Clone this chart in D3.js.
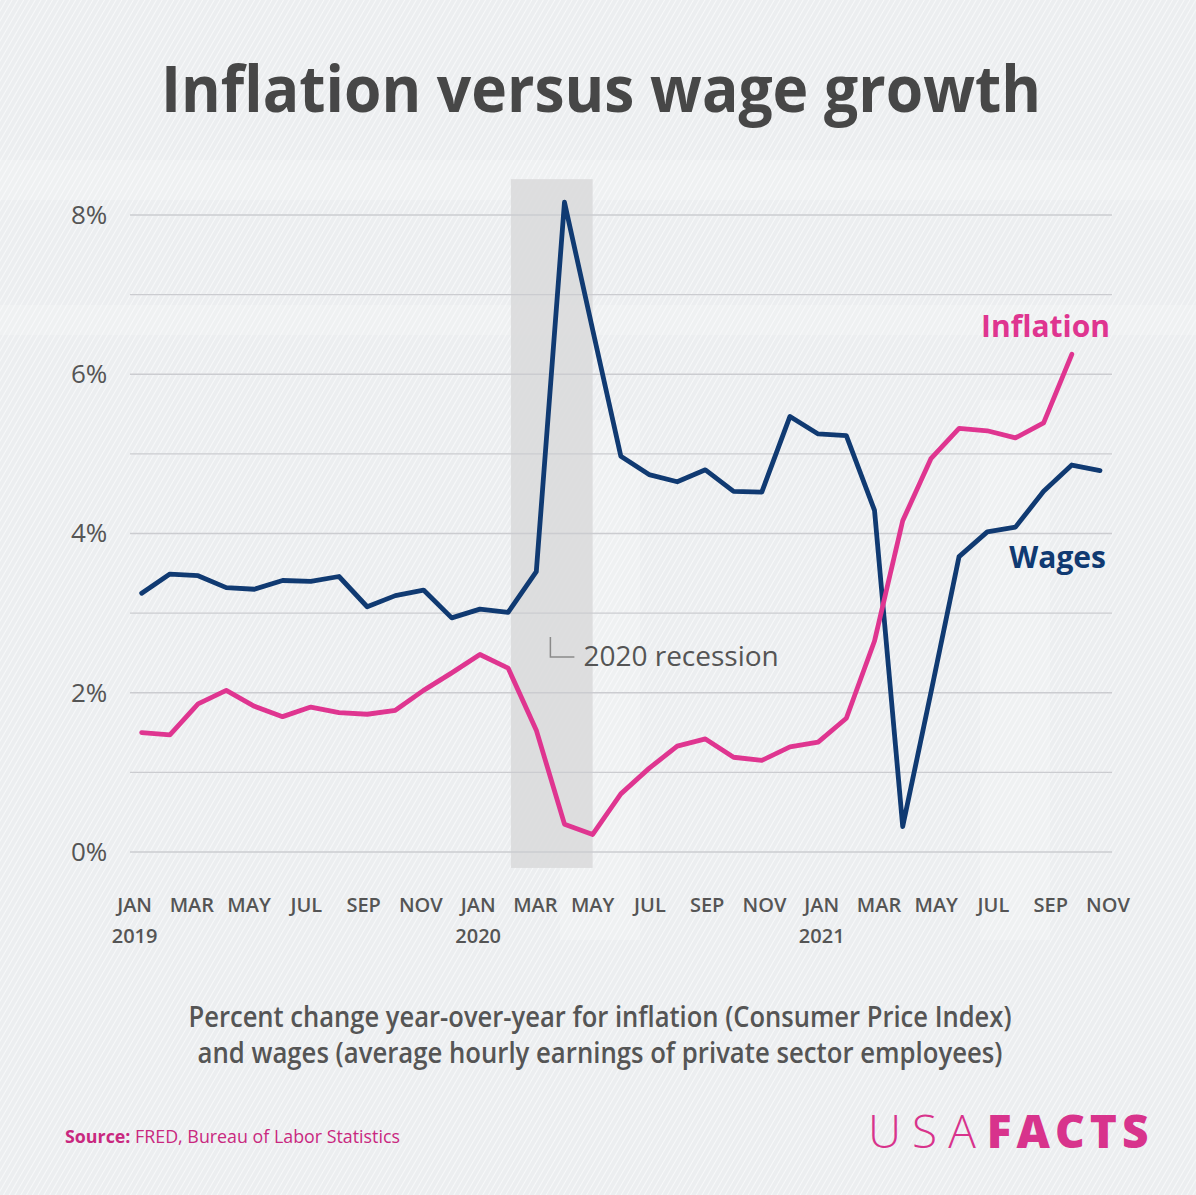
<!DOCTYPE html>
<html>
<head>
<meta charset="utf-8">
<script src="https://cdn.jsdelivr.net/npm/d3@7"></script>
<style>
  body { margin: 0; background: #eef0f2; }
  svg { display: block; font-family: "Open Sans", sans-serif; }
</style>
</head>
<body>
<div id="chart"></div>
<script>
// monthly data, Jan 2019 .. Nov 2021
const months = ["JAN","FEB","MAR","APR","MAY","JUN","JUL","AUG","SEP","OCT","NOV","DEC"];
const startYear = 2019;
const wages = [3.25, 3.49, 3.47, 3.32, 3.30, 3.41, 3.40, 3.46, 3.08, 3.22, 3.29, 2.94,
               3.05, 3.01, 3.52, 8.16, 6.56, 4.97, 4.74, 4.65, 4.80, 4.53, 4.52, 5.47,
               5.25, 5.23, 4.29, 0.32, 2.00, 3.71, 4.02, 4.08, 4.53, 4.86, 4.79];
const inflation = [1.50, 1.47, 1.86, 2.03, 1.83, 1.70, 1.82, 1.75, 1.73, 1.78, 2.03, 2.25,
                   2.48, 2.31, 1.53, 0.35, 0.22, 0.73, 1.05, 1.33, 1.42, 1.19, 1.15, 1.32,
                   1.38, 1.68, 2.65, 4.16, 4.94, 5.32, 5.29, 5.20, 5.39, 6.25];
const yTicks = [0, 2, 4, 6, 8];
const recession = [13.1, 16]; // month index range (Feb..May 2020)

const W = 1196, H = 1195;
const navy = "#103a72", pink = "#df3590", grey = "#555";

const svg = d3.select("#chart").append("svg")
    .attr("width", W).attr("height", H);

// background with fine diagonal hatching
const defs = svg.append("defs");
const pat = defs.append("pattern")
    .attr("id", "hatch").attr("width", 5).attr("height", 5)
    .attr("patternUnits", "userSpaceOnUse")
    .attr("patternTransform", "rotate(30)");
pat.append("rect").attr("width", 5).attr("height", 5).attr("fill", "#eceef0");
pat.append("line").attr("x1", 0).attr("y1", 0).attr("x2", 0).attr("y2", 5)
    .attr("stroke", "#fbfbfc").attr("stroke-width", 1.6);
svg.append("rect").attr("width", W).attr("height", H).attr("fill", "url(#hatch)");

// faint blocks hinting at the photo behind
const ghost = svg.append("g").attr("fill", "#ffffff").attr("opacity", 0.18);
ghost.append("rect").attr("x", 0).attr("y", 160).attr("width", W).attr("height", 40);
ghost.append("rect").attr("x", 0).attr("y", 305).attr("width", W).attr("height", 30);
ghost.append("rect").attr("x", 560).attr("y", 420).attr("width", 80).attr("height", 520);
ghost.append("rect").attr("x", 980).attr("y", 400).attr("width", 70).attr("height", 540);

// compress text that is wider than the reference
function fit(sel, w) {
  sel.each(function() {
    if (this.getComputedTextLength() > w) {
      d3.select(this).attr("textLength", w).attr("lengthAdjust", "spacingAndGlyphs");
    }
  });
}

// title
svg.append("text")
    .attr("x", 601).attr("y", 112)
    .attr("text-anchor", "middle")
    .attr("font-size", 64).attr("font-weight", 700)
    .attr("fill", "#474747")
    .text("Inflation versus wage growth")
    .call(fit, 880);

// scales
const x = d3.scaleLinear().domain([0, wages.length - 1]).range([141.7, 1100]);
const xLabel = d3.scaleLinear().domain([0, wages.length - 1]).range([134.6, 1108]);
const y = d3.scaleLinear().domain([0, 8]).range([852, 215]);

// recession band
svg.append("rect")
    .attr("x", x(recession[0]))
    .attr("width", x(recession[1]) - x(recession[0]))
    .attr("y", y(8.45)).attr("height", y(-0.2) - y(8.45))
    .attr("fill", "#d9d9da").attr("opacity", 0.85);

// grid lines each 1%
svg.append("g")
  .selectAll("line")
  .data(d3.range(0, 9))
  .join("line")
    .attr("x1", 130).attr("x2", 1112)
    .attr("y1", d => y(d)).attr("y2", d => y(d))
    .attr("stroke", "#cbccd0").attr("stroke-width", 1.4);

// y labels
const yAxis = d3.axisLeft(y).tickValues(yTicks).tickFormat(d => d + "%").tickSize(0);
svg.append("g")
    .attr("transform", "translate(112,0)")
    .call(yAxis)
    .call(g => g.select(".domain").remove())
    .selectAll("text")
    .attr("x", -41).attr("text-anchor", "start")
    .attr("font-family", "Open Sans").attr("font-size", 26).attr("font-weight", 500)
    .attr("fill", grey);

// x labels every two months + year under January
const monthIdx = d3.range(0, wages.length, 2);
const xg = svg.append("g").attr("font-weight", 600).attr("fill", grey).attr("text-anchor", "middle");
xg.selectAll("text.m")
  .data(monthIdx)
  .join("text")
    .attr("class", "m")
    .attr("x", d => xLabel(d)).attr("y", 912)
    .attr("font-size", 20)
    .text(d => months[d % 12]);
xg.selectAll("text.yr")
  .data(monthIdx.filter(d => d % 12 === 0))
  .join("text")
    .attr("class", "yr")
    .attr("x", d => xLabel(d)).attr("y", 943)
    .attr("font-size", 20)
    .text(d => startYear + d / 12);

// lines
const line = d3.line().x((d, i) => x(i)).y(d => y(d));
svg.append("path").datum(wages)
    .attr("d", line).attr("fill", "none")
    .attr("stroke", navy).attr("stroke-width", 4.8)
    .attr("stroke-linejoin", "round").attr("stroke-linecap", "round");
svg.append("path").datum(inflation)
    .attr("d", line).attr("fill", "none")
    .attr("stroke", pink).attr("stroke-width", 4.8)
    .attr("stroke-linejoin", "round").attr("stroke-linecap", "round");

// series labels
svg.append("text")
    .attr("x", 1110).attr("y", 337)
    .attr("text-anchor", "end").attr("font-size", 30).attr("font-weight", 700)
    .attr("fill", pink).text("Inflation");
svg.append("text")
    .attr("x", 1106).attr("y", 568)
    .attr("text-anchor", "end").attr("font-size", 30).attr("font-weight", 700)
    .attr("fill", navy).text("Wages");

// recession annotation
const ax = x(14.5), ay = y(2.45);
svg.append("path")
    .attr("d", `M${ax},${y(2.7)}V${ay}H${ax + 24}`)
    .attr("fill", "none").attr("stroke", "#8a8a8a").attr("stroke-width", 1.5);
svg.append("text")
    .attr("x", ax + 33).attr("y", ay + 9)
    .attr("font-size", 28).attr("font-weight", 500)
    .attr("fill", grey).text("2020 recession")
    .call(fit, 197);

// description
const desc = ["Percent change year-over-year for inflation (Consumer Price Index)",
              "and wages (average hourly earnings of private sector employees)"];
svg.append("g")
  .selectAll("text")
  .data(desc)
  .join("text")
    .attr("x", 600).attr("y", (d, i) => 1027 + i * 36)
    .attr("text-anchor", "middle")
    .attr("font-size", 28).attr("font-weight", 600)
    .attr("fill", grey)
    .text(d => d)
    .each(function(d, i) { fit(d3.select(this), i === 0 ? 823 : 805); });

// source
const src = svg.append("text")
    .attr("x", 65).attr("y", 1143)
    .attr("font-size", 18).attr("fill", "#c9287f");
src.append("tspan").attr("font-weight", 700).text("Source: ");
src.append("tspan").text("FRED, Bureau of Labor Statistics");
src.call(fit, 335);

// logo
const logo = svg.append("text")
    .attr("x", 868).attr("y", 1148)
    .attr("font-size", 46).attr("fill", "#d8338c");
logo.append("tspan").attr("font-weight", 300).attr("letter-spacing", 11).text("USA");
logo.append("tspan").attr("font-weight", 800).attr("letter-spacing", 5).text("FACTS");
logo.call(fit, 290);
</script>
</body>
</html>
